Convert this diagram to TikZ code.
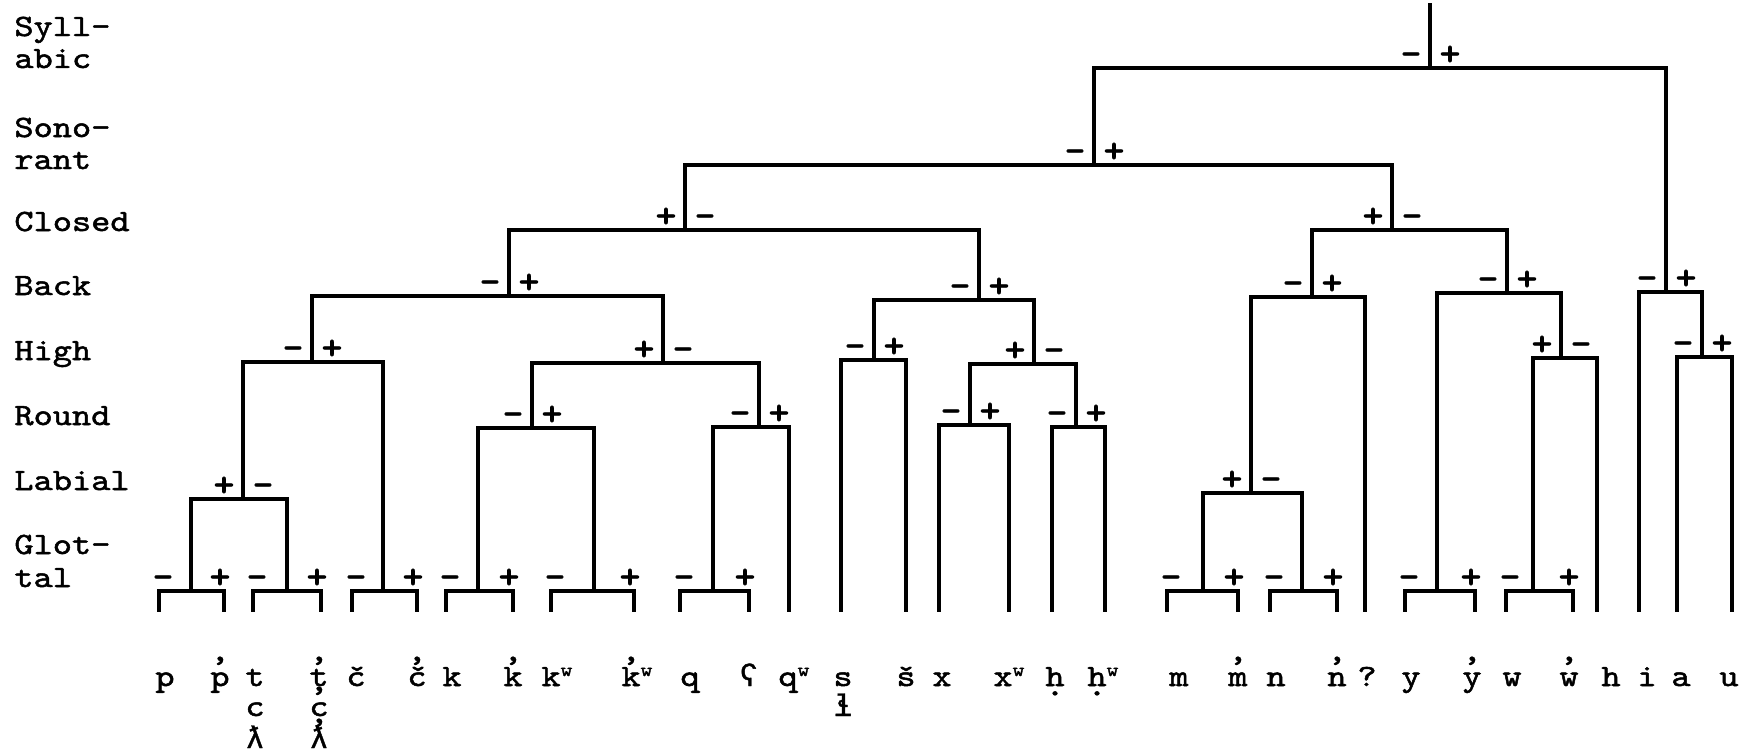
\documentclass[tikz,border=0pt]{standalone}
\usepackage{fontspec}
\newfontfamily\tw[FakeBold=1.6,FakeStretch=1.18]{lmmono10-regular.otf}
\newfontfamily\twsg[FakeBold=2.2,FakeStretch=1.1]{lmmono10-regular.otf}
\newfontfamily\twipa[FakeBold=1.2]{Liberation Mono}

% typewriter overstrikes: apostrophe above, dot below, raised w
\newcommand\ejc[1]{\ooalign{#1\cr\hidewidth\raisebox{.82em}{,}\hidewidth}}
\newcommand\dotu[1]{\ooalign{#1\cr\hidewidth\raisebox{-.3em}{.}\hidewidth}}
\newcommand\wsup{\rlap{\raisebox{5pt}{\fontsize{9.5}{9.5}\selectfont w}}}
\newcommand\ipa[1]{{\twipa #1}}

% a binary split: name, stem x, bar y, left end x, right end x, left sign, right sign
\newcommand\mkfork[7]{%
  \coordinate (#1) at (#2,#3);
  \coordinate (#1l) at (#4,#3);
  \coordinate (#1r) at (#5,#3);
  \draw[ln] (#1l) -- (#1r);
  \node[sg] (#1a) at (#2-19,#3) {#6};
  \node[sg] (#1b) at (#2+20,#3) {#7};
}
% the lowest (Glottal) split, drawn as a bracket: name, stem x, left x, right x
\newcommand\mkglot[4]{%
  \coordinate (#1) at (#2,591);
  \coordinate (#1l) at (#3,591);
  \coordinate (#1r) at (#4,591);
  \coordinate (#1lt) at (#3,610);
  \coordinate (#1rt) at (#4,610);
  \draw[ln] (#1lt) -- (#1l) -- (#1r) -- (#1rt);
  \node[sg] (#1a) at (#3+4,591) {-};
  \node[sg] (#1b) at (#4-4,591) {+};
}

\begin{document}
\begin{tikzpicture}[
  x=0.5pt, y=-0.5pt,
  ln/.style={line width=1.65pt, line cap=rect},
  tx/.style={font=\tw\fontsize{15.5}{18}\selectfont, inner sep=0pt},
  lab/.style={tx, anchor=base west},
  sg/.style={font=\twsg\fontsize{18}{18}\selectfont, inner sep=0pt, anchor=base, yshift=1.5pt},
  lf/.style={tx, anchor=base},
]
\fill[white] (0,0) rectangle (1747,755);
\useasboundingbox (0,0) rectangle (1747,755);

% feature names
\node[lab] (fSyl1) at (14,36)  {Syll-};
\node[lab] (fSyl2) at (14,68)  {abic};
\node[lab] (fSon1) at (14,137) {Sono-};
\node[lab] (fSon2) at (14,169) {rant};
\node[lab] (fClo)  at (14,231) {Closed};
\node[lab] (fBck)  at (14,295) {Back};
\node[lab] (fHig)  at (14,360) {High};
\node[lab] (fRnd)  at (14,425) {Round};
\node[lab] (fLab)  at (14,490) {Labial};
\node[lab] (fGlo1) at (14,554) {Glot-};
\node[lab] (fGlo2) at (14,587) {tal};

% root and the Syllabic / Sonorant / Closed splits
\coordinate (top) at (1430,5);
\mkfork{syl}{1430}{68}{1094}{1666}{-}{+}
\draw[ln] (top) -- (syl);
\mkfork{son}{1094}{165}{685}{1392}{-}{+}
\draw[ln] (syll) -- (son);
\mkfork{clo}{685}{230}{509}{979}{+}{-}
\draw[ln] (sonl) -- (clo);

% stops
\mkfork{bkA}{509}{296}{312}{663}{-}{+}
\draw[ln] (clol) -- (bkA);
\mkfork{hiA}{312}{362}{243}{383}{-}{+}
\draw[ln] (bkAl) -- (hiA);
\mkfork{laA}{243}{499}{191}{287}{+}{-}
\draw[ln] (hiAl) -- (laA);
\mkglot{gP}{191}{159}{224}
\draw[ln] (laAl) -- (gP);
\mkglot{gT}{287}{253}{321}
\draw[ln] (laAr) -- (gT);
\mkglot{gC}{383}{352}{417}
\draw[ln] (hiAr) -- (gC);
\mkfork{hiB}{663}{363}{532}{759}{+}{-}
\draw[ln] (bkAr) -- (hiB);
\mkfork{roA}{532}{428}{478}{594}{-}{+}
\draw[ln] (hiBl) -- (roA);
\mkglot{gK}{478}{446}{513}
\draw[ln] (roAl) -- (gK);
\mkglot{gKw}{594}{551}{634}
\draw[ln] (roAr) -- (gKw);
\mkfork{roB}{759}{427}{713}{789}{-}{+}
\draw[ln] (hiBr) -- (roB);
\mkglot{gQ}{713}{680}{749}
\draw[ln] (roBl) -- (gQ);
\coordinate (tQw) at (789,610);
\draw[ln] (roBr) -- (tQw);

% fricatives
\mkfork{bkB}{979}{300}{874}{1034}{-}{+}
\draw[ln] (clor) -- (bkB);
\mkfork{hiC}{874}{360}{841}{906}{-}{+}
\draw[ln] (bkBl) -- (hiC);
\coordinate (tS) at (841,610);
\coordinate (tSh) at (906,610);
\draw[ln] (hiCl) -- (tS);
\draw[ln] (hiCr) -- (tSh);
\mkfork{hiD}{1034}{364}{970}{1076}{+}{-}
\draw[ln] (bkBr) -- (hiD);
\mkfork{roC}{970}{425}{939}{1009}{-}{+}
\draw[ln] (hiDl) -- (roC);
\coordinate (tX) at (939,610);
\coordinate (tXw) at (1009,610);
\draw[ln] (roCl) -- (tX);
\draw[ln] (roCr) -- (tXw);
\mkfork{roD}{1076}{427}{1052}{1105}{-}{+}
\draw[ln] (hiDr) -- (roD);
\coordinate (tH) at (1052,610);
\coordinate (tHw) at (1105,610);
\draw[ln] (roDl) -- (tH);
\draw[ln] (roDr) -- (tHw);

% sonorant consonants
\mkfork{cloB}{1392}{230}{1312}{1507}{+}{-}
\draw[ln] (sonr) -- (cloB);
\mkfork{bkC}{1312}{297}{1251}{1365}{-}{+}
\draw[ln] (cloBl) -- (bkC);
\mkfork{laB}{1251}{493}{1203}{1302}{+}{-}
\draw[ln] (bkCl) -- (laB);
\mkglot{gM}{1203}{1167}{1238}
\draw[ln] (laBl) -- (gM);
\mkglot{gN}{1302}{1270}{1337}
\draw[ln] (laBr) -- (gN);
\coordinate (tGs) at (1365,610);
\draw[ln] (bkCr) -- (tGs);
\mkfork{bkD}{1507}{293}{1437}{1561}{-}{+}
\draw[ln] (cloBr) -- (bkD);
\mkglot{gY}{1437}{1405}{1475}
\draw[ln] (bkDl) -- (gY);
\mkfork{hiE}{1561}{358}{1533}{1597}{+}{-}
\draw[ln] (bkDr) -- (hiE);
\mkglot{gW}{1533}{1506}{1573}
\draw[ln] (hiEl) -- (gW);
\coordinate (tHh) at (1597,610);
\draw[ln] (hiEr) -- (tHh);

% vowels
\mkfork{bkE}{1666}{292}{1639}{1702}{-}{+}
\draw[ln] (sylr) -- (bkE);
\coordinate (tI) at (1639,610);
\draw[ln] (bkEl) -- (tI);
\mkfork{hiF}{1702}{357}{1677}{1732}{-}{+}
\draw[ln] (bkEr) -- (hiF);
\coordinate (tA) at (1677,610);
\coordinate (tU) at (1732,610);
\draw[ln] (hiFl) -- (tA);
\draw[ln] (hiFr) -- (tU);

% segments
\node[lf] (sP)   at (165,686)  {p};
\node[lf] (sPe)  at (220,686)  {\ejc{p}};
\node[lf] (sT)   at (255,686)  {t};
\node[lf] (sC)   at (255,716)  {c};
\node[lf] (sL)   at (255,748)  {\ipa{ƛ}};
\node[lf] (sTe)  at (319,686)  {\ejc{t}};
\node[lf] (sCe)  at (319,716)  {\ejc{c}};
\node[lf] (sLe)  at (319,748)  {\ejc{\ipa{ƛ}}};
\node[lf] (sCh)  at (356,686)  {č};
\node[lf] (sChe) at (417,686)  {\ejc{č}};
\node[lf] (sK)   at (452,686)  {k};
\node[lf] (sKe)  at (513,686)  {\ejc{k}};
\node[lf] (sKw)  at (551,686)  {k\wsup};
\node[lf] (sKwe) at (631,686)  {\ejc{k}\wsup};
\node[lf] (sQ)   at (690,686)  {q};
\node[lf] (sPh)  at (749,686)  {\ipa{ʕ}};
\node[lf] (sQw)  at (788,686)  {q\wsup};
\node[lf] (sS)   at (843,686)  {s};
\node[lf] (sLh)  at (843,716)  {\ipa{ɬ}};
\node[lf] (sSh)  at (906,686)  {š};
\node[lf] (sX)   at (942,686)  {x};
\node[lf] (sXw)  at (1003,686) {x\wsup};
\node[lf] (sHd)  at (1055,686) {\dotu{h}};
\node[lf] (sHdw) at (1097,686) {\dotu{h}\wsup};
\node[lf] (sM)   at (1179,686) {m};
\node[lf] (sMe)  at (1238,686) {\ejc{m}};
\node[lf] (sN)   at (1276,686) {n};
\node[lf] (sNe)  at (1337,686) {\ejc{n}};
\node[lf] (sGs)  at (1367,686) {?};
\node[lf] (sY)   at (1411,686) {y};
\node[lf] (sYe)  at (1472,686) {\ejc{y}};
\node[lf] (sW)   at (1512,686) {w};
\node[lf] (sWe)  at (1569,686) {\ejc{w}};
\node[lf] (sH)   at (1611,686) {h};
\node[lf] (sI)   at (1647,686) {i};
\node[lf] (sA)   at (1681,686) {a};
\node[lf] (sU)   at (1729,686) {u};
\end{tikzpicture}
\end{document}
